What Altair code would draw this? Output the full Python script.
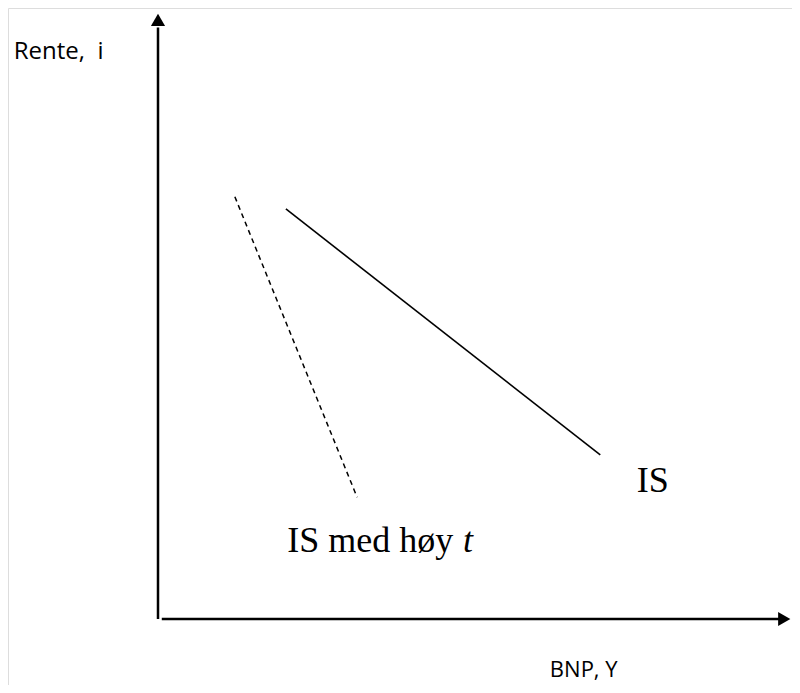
import altair as alt
import pandas as pd

# Axis geometry (economic units: Y on x-axis, i on y-axis)
axis_x = [0.0, 0.0]
axis_y = [0.0, 10.2]
xaxis_x = [0.06, 9.87]
xaxis_y = [0.0, 0.0]

# IS curve (solid)
is_x = [2.03, 7.02]
is_y = [7.07, 2.83]
# IS with high tax (dashed)
ist_x = [1.22, 3.16]
ist_y = [7.28, 2.10]

XD = [-150 / 63, (784 - 150) / 63]
YD = [-(677 - 611) / 58, 611 / 58]

xs = alt.Scale(domain=XD, nice=False, zero=False)
ys = alt.Scale(domain=YD, nice=False, zero=False)
X = lambda: alt.X("x:Q", scale=xs, axis=None)
Y = lambda: alt.Y("y:Q", scale=ys, axis=None)

def line(xv, yv, dash=None, width=2.0):
    df = pd.DataFrame({"x": xv, "y": yv})
    kw = dict(color="black", strokeWidth=width)
    if dash:
        kw["strokeDash"] = dash
    return alt.Chart(df).mark_line(**kw).encode(x=X(), y=Y())

yaxis = line(axis_x, axis_y, width=2.5)
xaxis = line(xaxis_x, xaxis_y, width=2.5)
is_line = line(is_x, is_y, width=1.6)
ist_line = line(ist_x, ist_y, dash=[5, 4], width=1.5)

arrows = alt.Chart(pd.DataFrame({
    "x": [0.0, 9.94], "y": [10.33, 0.0], "s": ["triangle-up", "triangle-right"]
})).mark_point(filled=True, color="black", opacity=1, size=200).encode(
    x=X(), y=Y(), shape=alt.Shape("s:N", scale=None)
)

ylab = pd.DataFrame({"x": [-2.29], "y": [9.78], "t": ["Rente,\u00a0\u00a0i"]})
ylab_text = alt.Chart(ylab).mark_text(
    font="Open Sans", fontSize=24, align="left", baseline="middle", color="black"
).encode(x=X(), y=Y(), text="t:N")

xlab = pd.DataFrame({"x": [6.22], "y": [-0.88], "t": ["BNP, Y"]})
xlab_text = alt.Chart(xlab).mark_text(
    font="Open Sans", fontSize=22, align="left", baseline="middle", color="black"
).encode(x=X(), y=Y(), text="t:N")

serif = pd.DataFrame({"x": [7.60, 2.05], "y": [2.19, 1.155], "t": ["IS", "IS med høy"]})
serif_text = alt.Chart(serif).mark_text(
    font="Liberation Serif", fontSize=36, align="left", baseline="alphabetic", color="black"
).encode(x=X(), y=Y(), text="t:N")

ital = pd.DataFrame({"x": [4.84], "y": [1.155], "t": ["t"]})
ital_text = alt.Chart(ital).mark_text(
    font="Liberation Serif", fontSize=36, fontStyle="italic", align="left",
    baseline="alphabetic", color="black"
).encode(x=X(), y=Y(), text="t:N")

chart = alt.layer(
    yaxis, xaxis, is_line, ist_line, arrows, ylab_text, xlab_text, serif_text, ital_text
).properties(
    width=784, height=677, padding=0, autosize=alt.AutoSizeParams(type="none")
).configure_view(strokeWidth=0).configure(background="transparent")

chart.save("out.html", embed_options={"renderer": "svg", "actions": False})
